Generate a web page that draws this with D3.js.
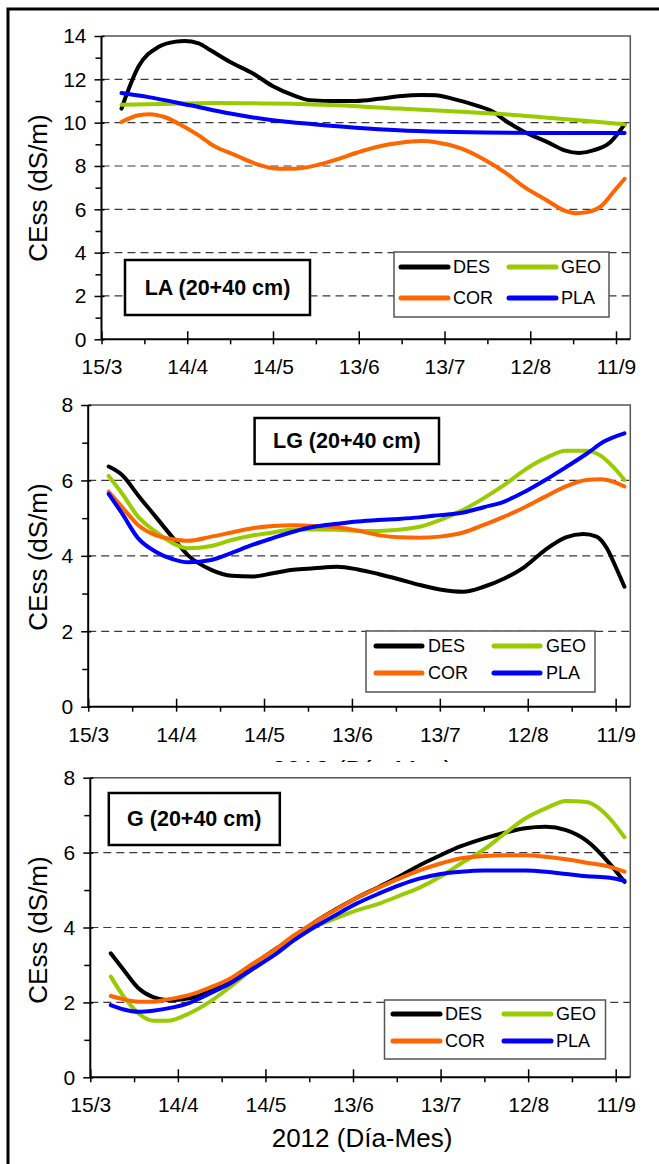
<!DOCTYPE html>
<html>
<head>
<meta charset="utf-8">
<script src="https://cdn.jsdelivr.net/npm/d3@7/dist/d3.min.js"></script>
<style>
  html, body { margin: 0; padding: 0; background: #fff; }
  svg { display: block; }
  text { font-family: "Liberation Sans", Arial, sans-serif; }
</style>
</head>
<body>
<script>
// ---------------- DATA ----------------
// x = days since 15 March 2012
const xTickDays   = [0, 30, 60, 90, 120, 150, 180];
const xTickLabels = ["15/3", "14/4", "14/5", "13/6", "13/7", "12/8", "11/9"];
const seriesNames = ["DES", "GEO", "COR", "PLA"];
const seriesColors = ["#000000", "#99cc00", "#ff6600", "#0000ff"];
const panelTitles = ["LA (20+40 cm)", "LG (20+40 cm)", "G (20+40 cm)"];
const yAxisTitle = "CEss (dS/m)";
const xAxisTitle = "2012 (Día-Mes)";

// Panel LA
const laDaysDES = [7,13,20,26,29,34,38,45,53,60,67,73,82,89,97,104,112,117,123,131,137,142,148,156,162,167,172,178,183];
const laDES     = [10.65,12.6,13.5,13.74,13.77,13.66,13.35,12.8,12.27,11.68,11.27,11.04,11.0,11.0,11.1,11.22,11.28,11.27,11.1,10.8,10.5,10.03,9.57,9.1,8.72,8.6,8.72,9.1,9.92];
const laDaysGEO = [7,20,40,60,82,104,126,141,156,170,183];
const laGEO     = [10.83,10.86,10.91,10.88,10.8,10.65,10.5,10.39,10.23,10.08,9.92];
const laDaysCOR = [7,13,17,22,28,34,39,47,54,62,67,75,82,89,97,104,112,117,126,134,141,148,156,162,166,170,175,179,183];
const laCOR     = [10.03,10.34,10.39,10.26,9.88,9.41,8.95,8.49,8.1,7.87,7.87,8.03,8.29,8.6,8.9,9.06,9.15,9.1,8.8,8.29,7.72,7.02,6.4,5.94,5.82,5.87,6.17,6.79,7.41];
const laDaysPLA = [7,16,31,45,60,75,89,104,119,134,156,183];
const laPLA     = [11.37,11.19,10.8,10.42,10.11,9.92,9.77,9.65,9.58,9.54,9.52,9.52];

// Panel LG
const lgDaysDES = [7,11.5,17,23,29,34,42,49,56,63,70,77,85,92,99,106,113,120,128,135,142,149,156,163,169,173.5,177,180,183];
const lgDES     = [6.37,6.15,5.61,5.04,4.47,4.02,3.63,3.47,3.45,3.54,3.63,3.67,3.71,3.64,3.52,3.38,3.23,3.11,3.05,3.18,3.40,3.71,4.16,4.49,4.58,4.51,4.2,3.71,3.18];
const lgDaysGEO = [7,11.5,17,23,29,34,42,49,56,63,70,77,85,92,99,106,113,120,128,135,142,149,156,163,170,175,179,183];
const lgGEO     = [6.12,5.66,5.04,4.64,4.33,4.2,4.26,4.42,4.54,4.62,4.70,4.70,4.69,4.66,4.66,4.69,4.77,4.95,5.22,5.53,5.88,6.28,6.59,6.79,6.79,6.65,6.37,6.01];
const lgDaysCOR = [7,11.5,17,23,29,34,42,49,56,63,70,77,85,92,99,106,113,120,128,135,142,149,156,163,170,175,179,183];
const lgCOR     = [5.70,5.30,4.82,4.55,4.44,4.40,4.51,4.62,4.73,4.79,4.81,4.79,4.76,4.67,4.55,4.49,4.48,4.51,4.62,4.82,5.04,5.29,5.57,5.84,6.01,6.03,5.97,5.84];
const lgDaysPLA = [7,11.5,17,23,29,34,42,49,56,63,70,77,85,92,99,106,113,120,128,135,142,149,156,163,170,176,183];
const lgPLA     = [5.64,5.13,4.47,4.11,3.91,3.83,3.89,4.08,4.29,4.47,4.64,4.77,4.85,4.91,4.95,4.98,5.02,5.08,5.15,5.29,5.44,5.70,6.01,6.35,6.70,7.03,7.25];

// Panel G
const gDays = [7,11.5,16.5,21.5,26.5,34,41,48,55,63,70,77,84,91,99,106,113,120,127,135,142,149,156,163,170,178,183];
const gDES  = [3.31,2.86,2.38,2.14,2.06,2.11,2.29,2.55,2.95,3.40,3.75,4.15,4.48,4.78,5.09,5.37,5.67,5.93,6.17,6.38,6.53,6.65,6.69,6.60,6.32,5.7,5.22];
const gGEO  = [2.69,2.15,1.71,1.51,1.51,1.71,2.02,2.42,2.86,3.35,3.75,4.02,4.24,4.45,4.64,4.85,5.07,5.36,5.71,6.09,6.51,6.91,7.18,7.38,7.35,6.91,6.41];
const gCOR  = [2.17,2.08,2.02,2.02,2.08,2.20,2.40,2.64,3.0,3.40,3.80,4.15,4.47,4.78,5.07,5.31,5.53,5.71,5.85,5.91,5.93,5.93,5.89,5.82,5.73,5.62,5.49];
const gPLA  = [1.93,1.81,1.75,1.78,1.84,1.99,2.24,2.51,2.86,3.26,3.67,4.02,4.33,4.63,4.91,5.13,5.31,5.43,5.49,5.52,5.52,5.52,5.49,5.43,5.37,5.33,5.25];

const yMaxes = [14, 8, 8];

// ---------------- LAYOUT ----------------
const W = 659, H = 1164;
const layouts = [
  { left: 101.5, right: 630.3, top: 36, bottom: 339.3, clipBottom: 377, titleCy: 188,
    label: {x: 125, y: 260, w: 185, h: 55},
    legend: {x: 394, y: 252, w: 215, h: 65, r1: 15, r2: 46, l1: 7, l2: 115, len: 47, t: 5},
    showXTitle: false },
  { left: 88.2, right: 630.3, top: 405, bottom: 706.7, clipBottom: 762, titleCy: 557,
    label: {x: 254.6, y: 418, w: 184.4, h: 46},
    legend: {x: 366, y: 631, w: 229, h: 61, r1: 15, r2: 42, l1: 10, l2: 128, len: 46, t: 6},
    showXTitle: true, xTitleY: 779 },
  { left: 90.3, right: 630.3, top: 777.7, bottom: 1077.3, clipBottom: H, titleCy: 930,
    label: {x: 108.8, y: 793, w: 171, h: 52},
    legend: {x: 384.5, y: 1000, w: 221, h: 59, r1: 14, r2: 41, l1: 8.5, l2: 119.5, len: 47, t: 5},
    showXTitle: true, xTitleY: 1147 }
];

const panelData = [
  [[laDaysDES, laDES], [laDaysGEO, laGEO], [laDaysCOR, laCOR], [laDaysPLA, laPLA]],
  [[lgDaysDES, lgDES], [lgDaysGEO, lgGEO], [lgDaysCOR, lgCOR], [lgDaysPLA, lgPLA]],
  [[gDays, gDES], [gDays, gGEO], [gDays, gCOR], [gDays, gPLA]]
];

const svg = d3.select("body").append("svg").attr("width", W).attr("height", H);
svg.append("rect").attr("width", W).attr("height", H).attr("fill", "#fff");
const defs = svg.append("defs");

layouts.forEach((L, pi) => {
  const clipId = "clip" + pi;
  const clipTop = pi === 0 ? 0 : layouts[pi - 1].clipBottom;
  defs.append("clipPath").attr("id", clipId)
    .append("rect").attr("x", 0).attr("y", clipTop).attr("width", W).attr("height", L.clipBottom - clipTop);
  const g = svg.append("g").attr("clip-path", `url(#${clipId})`);

  const x = d3.scaleLinear().domain([0, 185]).range([L.left, L.right]);
  const yMax = yMaxes[pi];
  const y = d3.scaleLinear().domain([0, yMax]).range([L.bottom, L.top]);

  // gridlines
  const gridVals = d3.range(2, yMax, 2);
  g.selectAll(".grid").data(gridVals).join("line")
    .attr("x1", L.left).attr("x2", L.right)
    .attr("y1", d => y(d)).attr("y2", d => y(d))
    .attr("stroke", "#3a3a3a").attr("stroke-width", 1.2).attr("stroke-dasharray", "8,5");

  // plot border top/right
  g.append("path")
    .attr("d", `M${L.left},${y(yMax)}H${L.right}V${y(0)}`)
    .attr("fill", "none").attr("stroke", "#555").attr("stroke-width", 1.5);

  // y axis
  const yAxis = d3.axisLeft(y).tickValues(d3.range(0, yMax + 1, 2)).tickSize(6).tickPadding(9)
    .tickFormat(d3.format("d"));
  const ya = g.append("g").attr("transform", `translate(${L.left},0)`).call(yAxis);
  ya.select(".domain").attr("d", `M0,${L.top}V${L.bottom}`).attr("stroke", "#000").attr("stroke-width", 2);
  ya.selectAll(".tick line").attr("x1", 3).attr("x2", -7).attr("stroke-width", 1.5);
  ya.selectAll(".tick text").attr("font-size", 21).attr("fill", "#000");
  const yMinor = d3.axisLeft(y).tickValues(d3.range(1, yMax, 2)).tickSize(6).tickFormat("");
  const yma = g.append("g").attr("transform", `translate(${L.left},0)`).call(yMinor);
  yma.select(".domain").remove();
  yma.selectAll(".tick line").attr("stroke-width", 1.5);

  // x axis
  const xAxis = d3.axisBottom(x).tickValues(xTickDays).tickSize(6)
    .tickFormat((d, i) => xTickLabels[i]).tickPadding(14);
  const xa = g.append("g").attr("transform", `translate(0,${L.bottom})`).call(xAxis);
  xa.select(".domain").attr("d", `M${L.left},0H${L.right}`).attr("stroke", "#000").attr("stroke-width", 2);
  xa.selectAll(".tick line").attr("y1", -8).attr("y2", 5).attr("stroke-width", 1.5);
  xa.selectAll(".tick text").attr("font-size", 21).attr("fill", "#000");
  const xMinor = d3.axisBottom(x).tickValues(d3.range(15, 180, 30)).tickSize(5).tickFormat("");
  const xma = g.append("g").attr("transform", `translate(0,${L.bottom})`).call(xMinor);
  xma.select(".domain").remove();
  xma.selectAll(".tick line").attr("stroke-width", 1.5);

  // y title
  g.append("text")
    .attr("transform", `translate(38,${L.titleCy}) rotate(-90)`)
    .attr("text-anchor", "middle").attr("dominant-baseline", "central")
    .attr("font-size", 26).text(yAxisTitle);

  // x title
  if (L.showXTitle) {
    g.append("text").attr("x", 362).attr("y", L.xTitleY)
      .attr("text-anchor", "middle").attr("font-size", 26).text(xAxisTitle);
  }

  // series lines
  const line = d3.line().x(d => x(d[0])).y(d => y(d[1])).curve(d3.curveMonotoneX);
  panelData[pi].forEach((s, si) => {
    const pts = s[0].map((d, i) => [d, s[1][i]]);
    g.append("path").attr("d", line(pts)).attr("fill", "none")
      .attr("stroke", seriesColors[si]).attr("stroke-width", 4)
      .attr("stroke-linejoin", "round").attr("stroke-linecap", "round");
  });

  // label box
  const lb = L.label;
  g.append("rect").attr("x", lb.x).attr("y", lb.y).attr("width", lb.w).attr("height", lb.h)
    .attr("fill", "#fff").attr("stroke", "#000").attr("stroke-width", 2.5);
  g.append("text").attr("x", lb.x + lb.w / 2).attr("y", lb.y + lb.h / 2)
    .attr("text-anchor", "middle").attr("dominant-baseline", "central")
    .attr("font-size", 21.5).attr("font-weight", "bold").text(panelTitles[pi]);

  // legend
  const lg = L.legend;
  g.append("rect").attr("x", lg.x).attr("y", lg.y).attr("width", lg.w).attr("height", lg.h)
    .attr("fill", "#fff").attr("stroke", "#555").attr("stroke-width", 1.5);
  const slots = [[lg.l1, lg.r1], [lg.l2, lg.r1], [lg.l1, lg.r2], [lg.l2, lg.r2]];
  seriesNames.forEach((name, si) => {
    const [lx, ry] = slots[si];
    g.append("line").attr("x1", lg.x + lx).attr("x2", lg.x + lx + lg.len)
      .attr("y1", lg.y + ry).attr("y2", lg.y + ry)
      .attr("stroke", seriesColors[si]).attr("stroke-width", 5).attr("stroke-linecap", "round");
    g.append("text").attr("x", lg.x + lx + lg.len + lg.t).attr("y", lg.y + ry)
      .attr("dominant-baseline", "central").attr("font-size", 18).text(name);
  });
});

// outer frame (extends past right/bottom edges)
svg.append("rect").attr("x", 8).attr("y", 9).attr("width", 700).attr("height", 1200)
  .attr("fill", "none").attr("stroke", "#000").attr("stroke-width", 3);
</script>
</body>
</html>
